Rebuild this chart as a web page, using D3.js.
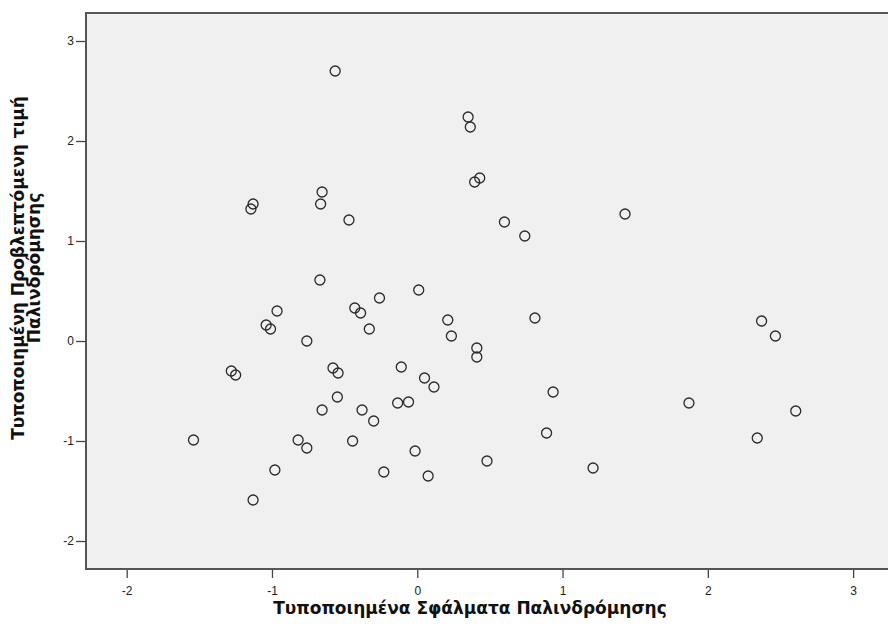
<!DOCTYPE html>
<html>
<head>
<meta charset="utf-8">
<script src="https://cdn.jsdelivr.net/npm/d3@7"></script>
<style>
  body { margin: 0; background: #fff; }
  .tick text { font-family: "Liberation Sans", Arial, sans-serif; font-size: 12px; fill: #222; }
  .title { font-family: "DejaVu Sans", Verdana, sans-serif; font-weight: bold; font-size: 17px; fill: #111; }
</style>
</head>
<body>
<script>
// standardized residuals (x) and standardized predicted values (y)
var residuals = [-0.565, 0.35, 0.365, 0.43, 0.395, -1.13, -1.145, -0.655, -0.665, -0.47,
  0.60, 0.74, 1.43, -0.67, 0.01, -0.26, -0.43, -0.39, -0.965, -1.04,
  -1.01, -0.33, -0.76, 0.21, 0.235, 0.81, 0.41, 0.41, 2.37, 2.465,
  -1.28, -1.25, -0.58, -0.545, -0.11, 0.05, 0.115, -0.55, -0.655, -0.38,
  -0.30, -0.135, -0.06, 0.935, 1.87, 2.605, 0.89, 2.34, -1.54, -0.82,
  -0.76, -0.445, -0.015, -0.98, -0.23, 0.48, 0.075, 1.21, -1.13];
var predicted = [2.70, 2.24, 2.14, 1.63, 1.59, 1.37, 1.32, 1.49, 1.37, 1.21,
  1.19, 1.05, 1.27, 0.61, 0.51, 0.43, 0.33, 0.28, 0.30, 0.16,
  0.12, 0.12, 0.00, 0.21, 0.05, 0.23, -0.07, -0.16, 0.20, 0.05,
  -0.30, -0.34, -0.27, -0.32, -0.26, -0.37, -0.46, -0.56, -0.69, -0.69,
  -0.80, -0.62, -0.61, -0.51, -0.62, -0.70, -0.92, -0.97, -0.99, -0.99,
  -1.07, -1.00, -1.10, -1.29, -1.31, -1.20, -1.35, -1.27, -1.59];

var xTicks = [-2, -1, 0, 1, 2, 3];
var yTicks = [-2, -1, 0, 1, 2, 3];

var xTitle = "Τυποποιημένα Σφάλματα Παλινδρόμησης";
var yTitle = ["Τυποποιημένη Προβλεπτόμενη τιμή", "Παλινδρόμησης"];

var width = 888, height = 641;
var plot = {left: 86, top: 13, right: 888, bottom: 569};

var svg = d3.select("body").
  append("svg").
  attr("width", width).
  attr("height", height);

var x = d3.scaleLinear().domain([-2.28, 3.24]).range([plot.left, plot.right]);
var y = d3.scaleLinear().domain([-2.28, 3.28]).range([plot.bottom, plot.top]);

svg.append("rect")
  .attr("x", plot.left)
  .attr("y", plot.top)
  .attr("width", plot.right - plot.left)
  .attr("height", plot.bottom - plot.top)
  .attr("fill", "#f0f0f0");

// frame: top, left, bottom
svg.append("path")
  .attr("d", "M" + plot.right + "," + plot.top + "H" + plot.left + "V" + plot.bottom + "H" + plot.right)
  .attr("fill", "none")
  .attr("stroke", "#555")
  .attr("stroke-width", 2);

var xAxis = svg.append("g")
  .attr("transform", "translate(0," + (plot.bottom + 1) + ")")
  .call(d3.axisBottom(x).tickValues(xTicks).tickSize(8).tickPadding(8).tickFormat(function(d) { return String(d); }));
xAxis.select(".domain").remove();
xAxis.selectAll(".tick line").attr("stroke", "#444").attr("stroke-width", 1.3);

var yAxis = svg.append("g")
  .attr("transform", "translate(" + (plot.left - 1) + ",0)")
  .call(d3.axisLeft(y).tickValues(yTicks).tickSize(9).tickPadding(2).tickFormat(function(d) { return String(d); }));
yAxis.select(".domain").remove();
yAxis.selectAll(".tick line").attr("stroke", "#444").attr("stroke-width", 1.3);

svg.selectAll("circle.pt")
  .data(residuals)
  .enter().append("circle")
  .attr("class", "pt")
  .attr("cx", function(d) { return x(d); })
  .attr("cy", function(d, i) { return y(predicted[i]); })
  .attr("r", 5)
  .attr("fill", "none")
  .attr("stroke", "#2a2a2a")
  .attr("stroke-width", 1.3);

svg.append("text")
  .attr("class", "title")
  .attr("x", 470)
  .attr("y", 614)
  .attr("text-anchor", "middle")
  .text(xTitle);

var yt = svg.append("text")
  .attr("class", "title")
  .attr("text-anchor", "middle")
  .attr("transform", "translate(24,268) rotate(-90)");
yt.selectAll("tspan")
  .data(yTitle)
  .enter().append("tspan")
  .attr("x", 0)
  .attr("dy", function(d, i) { return i === 0 ? 0 : 16; })
  .text(function(d) { return d; });
</script>
</body>
</html>
